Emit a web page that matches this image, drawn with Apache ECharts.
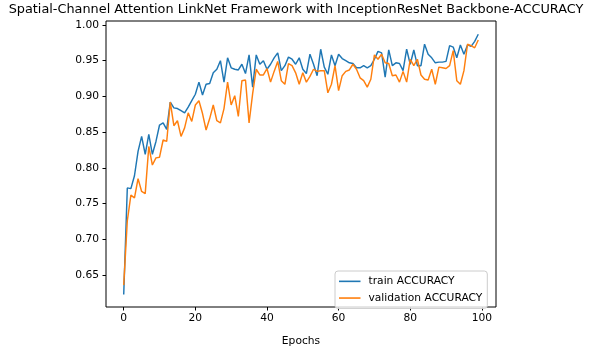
<!DOCTYPE html>
<html>
<head>
<meta charset="utf-8">
<script src="https://cdn.jsdelivr.net/npm/echarts@6/dist/echarts.min.js"></script>
<style>
  html, body { margin: 0; padding: 0; background: #fff; }
  #chart { width: 592px; height: 352px; }
</style>
</head>
<body>
<div id="chart"></div>
<script>
// Per-epoch accuracy for the training and validation runs
const trainAcc = [
  0.623, 0.772, 0.771, 0.789, 0.823, 0.844, 0.819, 0.847, 0.819, 0.837,
  0.860, 0.863, 0.854, 0.892, 0.884, 0.883, 0.880, 0.877, 0.885, 0.894,
  0.903, 0.920, 0.902, 0.917, 0.918, 0.933, 0.938, 0.950, 0.920, 0.954,
  0.940, 0.938, 0.937, 0.945, 0.932, 0.958, 0.913, 0.958, 0.945, 0.950,
  0.938, 0.945, 0.954, 0.961, 0.936, 0.943, 0.955, 0.952, 0.945, 0.954,
  0.938, 0.932, 0.959, 0.945, 0.929, 0.966, 0.941, 0.931, 0.958, 0.943,
  0.959, 0.953, 0.950, 0.947, 0.946, 0.940, 0.940, 0.943, 0.940, 0.943,
  0.952, 0.963, 0.961, 0.927, 0.965, 0.943, 0.947, 0.946, 0.936, 0.966,
  0.945, 0.965, 0.943, 0.943, 0.973, 0.959, 0.954, 0.947, 0.948, 0.948,
  0.949, 0.971, 0.969, 0.954, 0.972, 0.959, 0.972, 0.970, 0.977, 0.987
];
const valAcc = [
  0.636, 0.726, 0.762, 0.758, 0.785, 0.767, 0.764, 0.830, 0.804, 0.814,
  0.815, 0.839, 0.837, 0.892, 0.859, 0.866, 0.844, 0.856, 0.877, 0.865,
  0.888, 0.894, 0.876, 0.853, 0.869, 0.888, 0.866, 0.863, 0.883, 0.920,
  0.888, 0.901, 0.872, 0.922, 0.923, 0.863, 0.904, 0.938, 0.930, 0.930,
  0.939, 0.920, 0.935, 0.949, 0.922, 0.917, 0.946, 0.943, 0.933, 0.917,
  0.933, 0.920, 0.928, 0.938, 0.935, 0.936, 0.936, 0.905, 0.917, 0.943,
  0.908, 0.929, 0.935, 0.937, 0.945, 0.938, 0.926, 0.922, 0.913, 0.924,
  0.958, 0.952, 0.959, 0.947, 0.946, 0.929, 0.930, 0.920, 0.935, 0.920,
  0.952, 0.943, 0.952, 0.930, 0.924, 0.923, 0.938, 0.917, 0.941, 0.940,
  0.939, 0.943, 0.964, 0.922, 0.917, 0.936, 0.973, 0.971, 0.968, 0.979
];
const xTicks = [0, 20, 40, 60, 80, 100];
const yTicks = [0.65, 0.70, 0.75, 0.80, 0.85, 0.90, 0.95, 1.00];
const seriesNames = ['train ACCURACY', 'validation ACCURACY'];
const titleText = 'Spatial-Channel Attention LinkNet Framework with InceptionResNet Backbone-ACCURACY';

const toPairs = arr => arr.map((v, i) => [i, v]);
const font = 'DejaVu Sans';
const small = 10.7;

const chart = echarts.init(document.getElementById('chart'), null, { renderer: 'canvas' });
chart.setOption({
  animation: false,
  backgroundColor: '#ffffff',
  graphic: [{
    type: 'text',
    x: 296,
    y: 10,
    style: {
      text: titleText,
      font: '12.85px "DejaVu Sans"',
      fill: '#000',
      textAlign: 'center',
      textVerticalAlign: 'middle'
    }
  }],
  grid: {
    left: 106, top: 21, width: 390, height: 291,
    show: true, borderColor: '#000', borderWidth: 1, backgroundColor: 'transparent'
  },
  xAxis: {
    type: 'value',
    min: -4.95, max: 103.95,
    name: 'Epochs',
    nameLocation: 'middle',
    nameGap: 29,
    nameTextStyle: { fontFamily: font, fontSize: small, color: '#000' },
    axisLine: { show: false, onZero: false },
    splitLine: { show: false },
    axisTick: { show: true, length: 3.5, customValues: xTicks, lineStyle: { color: '#000' } },
    axisLabel: { customValues: xTicks, margin: 6, fontFamily: font, fontSize: small, color: '#000' }
  },
  yAxis: {
    type: 'value',
    min: 0.6054, max: 1.0055,
    axisLine: { show: false, onZero: false },
    splitLine: { show: false },
    axisTick: { show: true, length: 3.5, customValues: yTicks, lineStyle: { color: '#000' } },
    axisLabel: {
      customValues: yTicks, margin: 7, fontFamily: font, fontSize: small, color: '#000',
      formatter: v => v.toFixed(2)
    }
  },
  legend: {
    orient: 'vertical',
    left: 335, top: 271,
    padding: [4, 5, 4, 4],
    icon: 'rect',
    itemWidth: 21.5, itemHeight: 1.6, itemGap: 4,
    backgroundColor: 'rgba(255,255,255,0.8)',
    borderColor: '#cccccc', borderWidth: 1, borderRadius: 3,
    textStyle: { fontFamily: font, fontSize: small, lineHeight: 12.7, color: '#000', padding: [0, 0, 0, 3] },
    data: seriesNames
  },
  series: [
    {
      name: seriesNames[0], type: 'line', data: toPairs(trainAcc),
      symbol: 'none', showSymbol: false,
      color: '#1f77b4', lineStyle: { color: '#1f77b4', width: 1.45 }
    },
    {
      name: seriesNames[1], type: 'line', data: toPairs(valAcc),
      symbol: 'none', showSymbol: false,
      color: '#ff7f0e', lineStyle: { color: '#ff7f0e', width: 1.45 }
    }
  ]
});
</script>
</body>
</html>
